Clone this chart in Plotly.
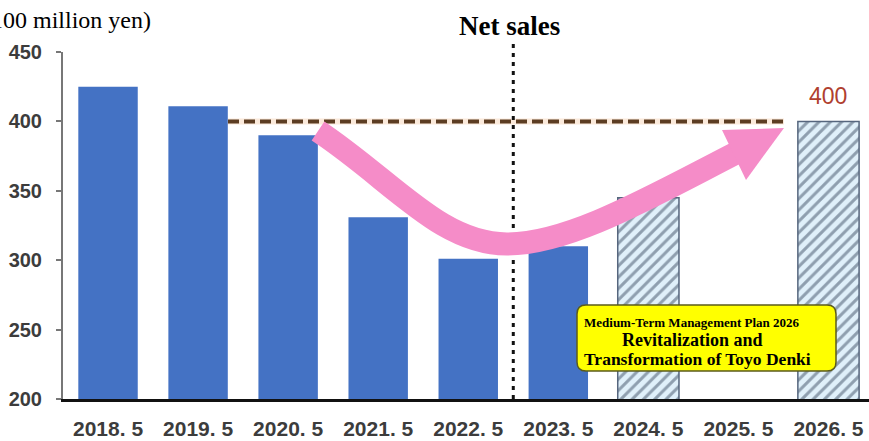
import plotly.graph_objects as go

# ---- data ----
categories = ["2018. 5", "2019. 5", "2020. 5", "2021. 5", "2022. 5",
              "2023. 5", "2024. 5", "2025. 5", "2026. 5"]
actual_sales = [425, 411, 390, 331, 301, 310, None, None, None]
plan_sales = [None, None, None, None, None, None, 345, None, 400]
target_value = 400
y_ticks = [200, 250, 300, 350, 400, 450]

# ---- layout geometry ----
W_FIG, H_FIG = 869, 441
L, R, T, B = 63, 0, 52, 42
PW, PH = W_FIG - L - R, H_FIG - T - B
XR = [-0.5, 8.45]
YR = [200, 450]


def dx(px):
    return XR[0] + (px - L) / PW * (XR[1] - XR[0])


def dy(py):
    return YR[0] + (T + PH - py) / PH * (YR[1] - YR[0])


def px_x(px):
    return (px - L) / PW


def px_y(py):
    return (T + PH - py) / PH


xs = list(range(len(categories)))

fig = go.Figure()
fig.add_trace(go.Bar(
    x=xs, y=actual_sales, width=0.66,
    marker=dict(color="#4472c4", line=dict(width=0)),
    hoverinfo="skip"))
fig.add_trace(go.Bar(
    x=xs, y=plan_sales, width=0.68,
    marker=dict(color="#e0f0fa",
                line=dict(color="#56667e", width=1.5),
                pattern=dict(shape="/", fgcolor="#3e4d63", bgcolor="#e0f0fa",
                             size=8, solidity=0.38)),
    hoverinfo="skip"))

shapes = []
# target dashed line glow + dashes
shapes.append(dict(type="line", xref="x", yref="y", x0=dx(228), x1=dx(784),
                   y0=target_value, y1=target_value,
                   line=dict(color="#fbeadb", width=6), layer="above"))
shapes.append(dict(type="line", xref="x", yref="y", x0=dx(228), x1=dx(784),
                   y0=target_value, y1=target_value,
                   line=dict(color="#5c3d22", width=4, dash="11px,5px"), layer="above"))
# vertical dotted divider
shapes.append(dict(type="line", xref="x", yref="paper", x0=4.5, x1=4.5,
                   y0=0, y1=px_y(42),
                   line=dict(color="#111111", width=3, dash="4px,5px"), layer="above"))

# pink arrow shaft
p = [(318, 131), (392, 180), (440, 244), (507, 244),
     (570, 244), (652, 196), (740, 151)]
pts = [(dx(a), dy(b)) for a, b in p]
path = "M {},{} C {},{} {},{} {},{} C {},{} {},{} {},{}".format(
    *[v for pt in pts for v in pt])
shapes.append(dict(type="path", xref="x", yref="y", path=path,
                   line=dict(color="#f58cc8", width=23), layer="above"))
# arrow head
head = [(722, 130), (784, 128), (746, 180)]
hp = "M {},{} L {},{} L {},{} Z".format(*[v for a, b in head for v in (dx(a), dy(b))])
shapes.append(dict(type="path", xref="x", yref="y", path=hp,
                   fillcolor="#f58cc8", line=dict(width=0), layer="above"))

# yellow rounded box
bx0, bx1, by0, by1, r = 577, 836, 305, 371, 9
def P(a, b):
    return "{},{}".format(dx(a), dy(b))
box = ("M " + P(bx0 + r, by0) + " L " + P(bx1 - r, by0) +
       " Q " + P(bx1, by0) + " " + P(bx1, by0 + r) +
       " L " + P(bx1, by1 - r) + " Q " + P(bx1, by1) + " " + P(bx1 - r, by1) +
       " L " + P(bx0 + r, by1) + " Q " + P(bx0, by1) + " " + P(bx0, by1 - r) +
       " L " + P(bx0, by0 + r) + " Q " + P(bx0, by0) + " " + P(bx0 + r, by0) + " Z")
shapes.append(dict(type="path", xref="x", yref="y", path=box,
                   fillcolor="#ffff00", line=dict(color="#5b5b1c", width=1.5),
                   layer="above"))

serif = "Liberation Serif, Times New Roman, serif"
sans = "Liberation Sans, Arial, sans-serif"
annotations = [
    dict(text="<b>Net sales</b>", xref="paper", yref="paper",
         x=px_x(510), y=px_y(26), xanchor="center", yanchor="middle",
         showarrow=False, font=dict(family=serif, size=27, color="#000")),
    dict(text="(100 million yen)", xref="paper", yref="paper",
         x=px_x(153), y=px_y(20), xanchor="right", yanchor="middle",
         showarrow=False, font=dict(family=serif, size=24, color="#000")),
    dict(text=str(plan_sales[8]), xref="x", yref="y", x=8, y=plan_sales[8],
         xanchor="center", yanchor="bottom", yshift=10, showarrow=False,
         font=dict(family=sans, size=23, color="#b0402f")),
    dict(text="<b>Medium-Term Management Plan 2026</b>", xref="x", yref="y",
         x=dx(692), y=dy(322), xanchor="center", yanchor="middle", showarrow=False,
         font=dict(family=serif, size=13, color="#000")),
    dict(text="<b>Revitalization and</b>", xref="x", yref="y",
         x=dx(692), y=dy(340), xanchor="center", yanchor="middle", showarrow=False,
         font=dict(family=serif, size=18, color="#000")),
    dict(text="<b>Transformation of Toyo Denki</b>", xref="x", yref="y",
         x=dx(697), y=dy(359), xanchor="center", yanchor="middle", showarrow=False,
         font=dict(family=serif, size=17.5, color="#000")),
]

tickfont = dict(family=sans, size=20, color="#3c3c3c", weight="bold")

fig.update_layout(
    width=W_FIG, height=H_FIG,
    margin=dict(l=L, r=R, t=T, b=B, pad=0),
    paper_bgcolor="white", plot_bgcolor="white",
    showlegend=False, barmode="overlay",
    shapes=shapes, annotations=annotations,
    xaxis=dict(range=XR, tickmode="array", tickvals=xs, ticktext=categories,
               showgrid=False, zeroline=False, showline=True, linecolor="#111111",
               linewidth=3, ticks="", tickfont=dict(tickfont, size=21),
               ticklabelstandoff=9, fixedrange=True),
    yaxis=dict(range=YR, tickmode="array", tickvals=y_ticks,
               showgrid=False, zeroline=False, showline=True, linecolor="#777777",
               linewidth=2, ticks="outside", ticklen=5, tickcolor="#777777",
               tickwidth=2, tickfont=tickfont, ticklabelstandoff=10,
               fixedrange=True),
)

fig.write_html("out.html")
